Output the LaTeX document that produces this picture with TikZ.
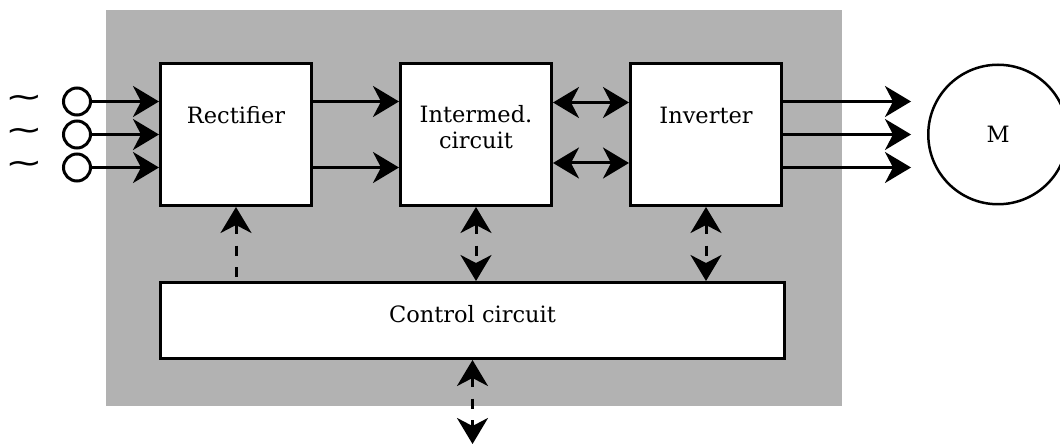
\documentclass[tikz,border=0pt]{standalone}
\usepackage{fontspec}
\usepackage{graphicx}
\setmainfont{DejaVu Serif}
\newfontfamily\symfont{DejaVu Sans}
\usetikzlibrary{positioning,arrows.meta,backgrounds,calc}

\begin{document}
\begin{tikzpicture}[
  font=\fontsize{12.8}{14.8}\selectfont,
  >={Stealth[length=5.2mm,width=6.2mm,inset=1.6mm]},
  line width=0.6mm,
  box/.style   ={draw, fill=white, minimum width=30.2mm, minimum height=28.4mm,
                 inner sep=0pt},
  ctrlbox/.style={box, minimum width=124.8mm, minimum height=15.2mm},
  boxtext/.style={anchor=base, align=center, inner sep=0pt},
  src/.style   ={draw, circle, fill=white, minimum size=5.4mm, inner sep=0pt},
  motorc/.style={draw, circle, line width=0.5mm, minimum size=27.9mm, inner sep=0pt},
  wave/.style  ={inner sep=0pt, font=\symfont\fontsize{16}{16}\selectfont},
  flow/.style  ={->},
  dflow/.style ={dash pattern=on 2mm off 2.3mm},
  panel/.style ={fill=black!30},
]
\useasboundingbox (0,0) rectangle (212mm,-89mm);

% converter blocks
\node[box, label={[boxtext, yshift=-12.4mm]north:Rectifier}]
  (rect) at (47.2mm,-26.9mm) {};
\node[box, right=17.2mm of rect, label={[boxtext, yshift=-17.4mm]north:Intermed.\\circuit}]
  (inter) {};
\node[box, right=15.2mm of inter, label={[boxtext, yshift=-12.4mm]north:Inverter}]
  (inv) {};

% control
\node[ctrlbox, below right=14.8mm and 0mm of rect.south west,
      label={[boxtext, yshift=-8.3mm]north:Control circuit}]
  (ctrl) {};

% motor
\node[motorc, right=28.8mm of inv] (motor) {M};
\coordinate (mIn) at ([xshift=-3.2mm]motor.west);
\coordinate[below=16.8mm of ctrl.south] (bus);

% grey panel
\begin{scope}[on background layer]
  \fill[panel] ([xshift=-10.6mm,yshift=10.4mm]rect.north west)
    rectangle ([xshift=11.8mm,yshift=-9.2mm]ctrl.south -| inv.east);
\end{scope}

% mains inputs
\foreach \i/\dy in {1/6.6,2/0,3/-6.6}{
  \node[src, left=13.4mm of rect.west, yshift=\dy mm] (in\i) {};
  \node[wave, left=3.4mm of in\i] (ac\i) {\scalebox{1.6}[1.1]{∼}};
  \draw[flow] (in\i) -- (in\i -| rect.west);
}

% power path
\draw[flow] ([yshift=6.6mm]rect.east)  -- ([yshift=6.6mm]rect.east -| inter.west);
\draw[flow] ([yshift=-6.6mm]rect.east) -- ([yshift=-6.6mm]rect.east -| inter.west);
\draw[<->]  ([yshift=6.4mm]inter.east)  -- ([yshift=6.4mm]inter.east -| inv.west);
\draw[<->]  ([yshift=-5.7mm]inter.east) -- ([yshift=-5.7mm]inter.east -| inv.west);
\foreach \dy in {6.6,0,-6.6}
  \draw[flow] ([yshift=\dy mm]inv.east) -- ([yshift=\dy mm]inv.east -| mIn);

% control links
\draw[dflow, <-]  (rect.south)  -- (rect.south |- ctrl.north);
\draw[dflow, <->] (inter.south) -- (inter.south |- ctrl.north);
\draw[dflow, <->] (inv.south)   -- (inv.south |- ctrl.north);
\draw[dflow, <->] (ctrl.south)  -- (bus);

\end{tikzpicture}
\end{document}
